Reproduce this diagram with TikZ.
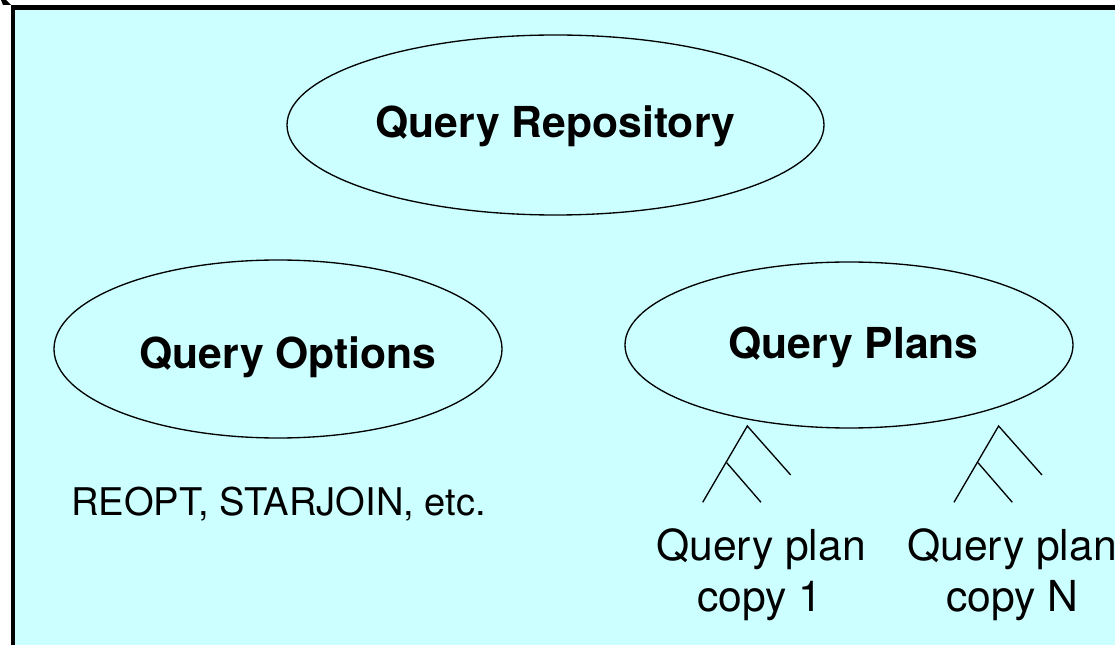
\documentclass[tikz,border=0pt]{standalone}
\usepackage{fontspec}
\setmainfont{TeX Gyre Heros}
\usetikzlibrary{shapes.geometric}
\definecolor{panelcyan}{RGB}{204,255,255}
\tikzset{
  x=0.75pt,y=-0.75pt,
  oval/.style={ellipse,draw=black,line width=1pt,inner sep=0pt,outer sep=0pt,minimum width=#1},
  titletext/.style={font=\fontsize{32}{38}\selectfont\bfseries,inner sep=0pt,anchor=base},
  smalltext/.style={font=\fontsize{28.6}{34}\selectfont,inner sep=0pt,anchor=base},
  plantext/.style={font=\fontsize{32}{37.5}\selectfont,inner sep=0pt,align=center,anchor=base},
  treeline/.style={draw=black,line width=1pt},
}
\begin{document}
\begin{tikzpicture}
\useasboundingbox (0,0) rectangle (1115,645);
\fill[white] (0,0) rectangle (1115,645);
\fill[panelcyan] (13,7.5) rectangle (1115,645);
\draw[black,line width=3.6pt] (13,645) -- (13,7.5) -- (1115,7.5);
\fill[black] (1,0) -- (6,0) -- (11,5) -- (3,5) -- cycle;
\node[oval=402.75pt,minimum height=135pt] (repo) at (555.5,125) {};
\node[oval=336pt,minimum height=133.5pt] (opts) at (278,349) {};
\node[oval=336pt,minimum height=124.5pt] (plans) at (849,345) {};
\node[titletext] (repolabel) at (555.5,138) {Query Repository};
\node[titletext] (optslabel) at (288,369) {Query Options};
\node[titletext] (planslabel) at (853.5,359) {Query Plans};
\node[smalltext] (etc) at (278.5,516) {REOPT, STARJOIN, etc.};
\node[plantext] (copyonea) at (761,561) {Query plan};
\node[plantext] (copyoneb) at (760,611) {copy 1};
\node[plantext] (copyna) at (1012,561) {Query plan};
\node[plantext] (copynb) at (1012.5,611) {copy N};
\coordinate (aa) at (747.3,426);
\coordinate (ab) at (790.7,475);
\coordinate (ac) at (702.7,502.3);
\coordinate (ad) at (726.7,462.7);
\coordinate (ae) at (761,502.3);
\coordinate (ba) at (998.6,426);
\coordinate (bb) at (1042,475);
\coordinate (bc) at (954,502.3);
\coordinate (bd) at (978,462.7);
\coordinate (be) at (1012.3,502.3);
\draw[treeline] (ac) -- (aa) -- (ab);
\draw[treeline] (ad) -- (ae);
\draw[treeline] (bc) -- (ba) -- (bb);
\draw[treeline] (bd) -- (be);
\end{tikzpicture}
\end{document}
